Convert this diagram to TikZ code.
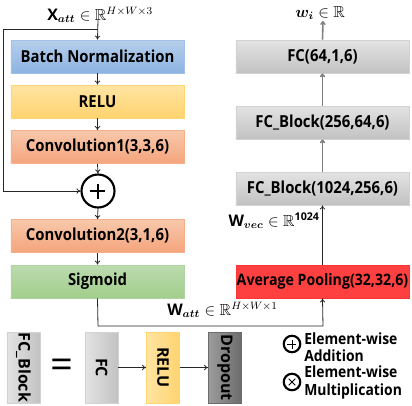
\documentclass[tikz,border=0pt]{standalone}
\usepackage{amsmath,amssymb,bm}
\usepackage{fontspec}
\setmainfont{Open Sans}
\newfontfamily\nf{Open Sans}[FakeStretch=0.9]
\usetikzlibrary{arrows.meta}
\definecolor{bnT}{HTML}{B6CEEB}\definecolor{bnB}{HTML}{8DB4E2}\definecolor{bnD}{HTML}{A3C2E8}
\definecolor{reT}{HTML}{FFE4A3}\definecolor{reB}{HTML}{FFD46F}\definecolor{reD}{HTML}{FFD670}
\definecolor{coT}{HTML}{F8C8AB}\definecolor{coB}{HTML}{F4A47C}\definecolor{coD}{HTML}{F6B08C}
\definecolor{siT}{HTML}{BCDBAE}\definecolor{siB}{HTML}{A2CE8C}\definecolor{siD}{HTML}{AED4A0}
\definecolor{grT}{HTML}{E3E3E3}\definecolor{grB}{HTML}{C2C2C2}\definecolor{grD}{HTML}{D2D2D2}
\definecolor{avF}{HTML}{FF4040}\definecolor{avD}{HTML}{FF3535}
\definecolor{drL}{HTML}{6C6C6C}\definecolor{drR}{HTML}{9C9C9C}
\tikzset{
  box/.style={minimum width=173*0.75pt, minimum height=33*0.75pt, inner sep=0pt, font=\nf\fontsize{12.4}{13}\selectfont\bfseries, line width=0.6pt},
  vbox/.style={minimum width=71*0.75pt, minimum height=33*0.75pt, inner sep=0pt, font=\fontsize{12}{14}\selectfont\bfseries, rotate=-90, line width=0.6pt},
  arr/.style={draw=black!85, line width=0.6pt, -{To[length=3pt,width=4pt]}},
  garr/.style={draw=black!50, line width=1.2pt, -{To[length=3pt,width=4pt]}},
  lbl/.style={font=\fontsize{12}{14}\selectfont, inner sep=0pt},
  leg/.style={font=\nf\fontsize{11.6}{12.8}\selectfont\bfseries, align=left, inner sep=0pt, anchor=west}
}
\begin{document}
\begin{tikzpicture}[x=0.75pt,y=-0.75pt]
\useasboundingbox (0,0) rectangle (412,405);
% left column
\node[lbl, anchor=base west] (xin) at (47,20.5) {$\mathbf{X}_{\bm{att}}\in\mathbb{R}^{H\times W\times 3}$};
\node[box, draw=bnD, top color=bnT, bottom color=bnB] (bn) at (97.5,56.5) {Batch Normalization};
\node[box, draw=reD, top color=reT, bottom color=reB] (relu) at (97.5,101.5) {RELU};
\node[box, draw=coD, top color=coT, bottom color=coB] (c1) at (97.5,147) {Convolution1(3,3,6)};
\node[circle, draw=black, line width=1.6pt, fill=white, minimum size=33*0.75pt, inner sep=0pt] (plus) at (98,191) {};
\draw[line width=1pt] ([xshift=-7.5*0.75pt]plus.center) -- ([xshift=7.5*0.75pt]plus.center);
\draw[line width=1pt] ([yshift=-7.5*0.75pt]plus.center) -- ([yshift=7.5*0.75pt]plus.center);
\node[box, draw=coD, top color=coT, bottom color=coB] (c2) at (97.5,236) {Convolution2(3,1,6)};
\node[box, draw=siD, top color=siT, bottom color=siB] (sig) at (97.5,281.5) {Sigmoid};
\coordinate (sk) at (98,29);
\coordinate (skL) at (3,29);
\coordinate (b1) at (98,326);
\coordinate (b2) at (323,326);
\coordinate (xa) at (98,20);
\draw[arr] (xa) -- (bn.north);
\draw[draw=black!85, line width=0.6pt] (sk) -- (skL);
\draw[arr] (skL) |- (plus.west);
\draw[arr] (bn.south) -- (relu.north);
\draw[arr] (relu.south) -- (c1.north);
\draw[arr] (c1.south) -- (plus.north);
\draw[arr] (plus.south) -- (c2.north);
\draw[arr] (c2.south) -- (sig.north);
% right column
\node[box, draw=avD, fill=avF, font=\nf\fontsize{11.8}{13}\selectfont\bfseries] (avg) at (322.5,281.5) {Average Pooling(32,32,6)};
\node[box, draw=grD, top color=grT, bottom color=grB] (fcb2) at (322.5,188.5) {FC\_Block(1024,256,6)};
\node[box, draw=grD, top color=grT, bottom color=grB] (fcb1) at (322.5,122.5) {FC\_Block(256,64,6)};
\node[box, draw=grD, top color=grT, bottom color=grB] (fc) at (322.5,56.5) {FC(64,1,6)};
\node[lbl, anchor=base west] (wi) at (295,17) {$\bm{w}_{\bm{i}}\in\mathbb{R}$};
\coordinate (wa) at (323,21);
\node[lbl, anchor=base east] (wvec) at (320,226) {$\mathbf{W}_{\bm{vec}}\in\mathbb{R}^{\mathbf{1024}}$};
\node[lbl, anchor=base west] (watt) at (167,315) {$\mathbf{W}_{\bm{att}}\in\mathbb{R}^{H\times W\times 1}$};
\draw[arr] (sig.south) -- (b1) -- (b2) -- (avg.south);
\draw[arr] (avg.north) -- (fcb2.south);
\draw[garr] (fcb2.north) -- (fcb1.south);
\draw[garr] (fcb1.north) -- (fc.south);
\draw[garr] (fc.north) -- (wa);
% legend
\node[vbox, draw=grD, left color=grT, right color=grB] (lfcb) at (23.5,367.5) {FC\_Block};
\node[font=\fontsize{30}{30}\selectfont, inner sep=0pt] (eq) at (62,369) {=};
\node[vbox, draw=grD, left color=grT, right color=grB] (lfc) at (101.5,367.5) {FC};
\node[vbox, draw=reD, left color=reT, right color=reB] (lrelu) at (163,367.5) {RELU};
\node[vbox, draw=drL, left color=drR, right color=drL] (ldrop) at (225,367.5) {Dropout};
\draw[arr] (lfc) -- (lrelu);
\draw[arr] (lrelu) -- (ldrop);
\node[circle, draw=black, line width=1.6pt, minimum size=16.5*0.75pt, inner sep=0pt] (lp) at (292,344) {};
\draw[line width=0.7pt] ([xshift=-4.5*0.75pt]lp.center) -- ([xshift=4.5*0.75pt]lp.center);
\draw[line width=0.7pt] ([yshift=-4.5*0.75pt]lp.center) -- ([yshift=4.5*0.75pt]lp.center);
\node[circle, draw=black, line width=1.6pt, minimum size=16.5*0.75pt, inner sep=0pt] (lx) at (292,382) {};
\draw[line width=0.7pt] ([shift={(-3.3*0.75pt,-3.3*0.75pt)}]lx.center) -- ([shift={(3.3*0.75pt,3.3*0.75pt)}]lx.center);
\draw[line width=0.7pt] ([shift={(-3.3*0.75pt,3.3*0.75pt)}]lx.center) -- ([shift={(3.3*0.75pt,-3.3*0.75pt)}]lx.center);
\node[leg] (ladd) at (304,347.5) {Element-wise\\Addition};
\node[leg] (lmul) at (304,382.5) {Element-wise\\Multiplication};
\end{tikzpicture}
\end{document}
